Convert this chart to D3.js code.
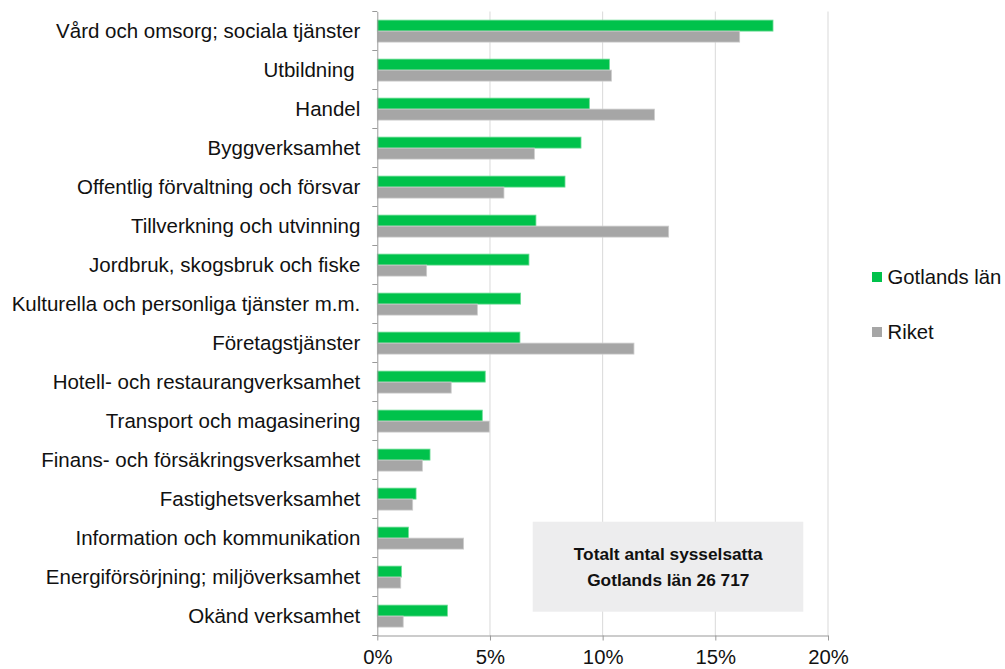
<!DOCTYPE html>
<html>
<head>
<meta charset="utf-8">
<script src="https://cdn.jsdelivr.net/npm/d3@7"></script>
<style>
  body { margin: 0; background: #fff; }
  text { font-family: "Liberation Sans", Arial, sans-serif; }
</style>
</head>
<body>
<div id="chart"></div>
<script>
// branscher, uppifrån och ned
const categories = [
  "Vård och omsorg; sociala tjänster",
  "Utbildning ",
  "Handel",
  "Byggverksamhet",
  "Offentlig förvaltning och försvar",
  "Tillverkning och utvinning",
  "Jordbruk, skogsbruk och fiske",
  "Kulturella och personliga tjänster m.m.",
  "Företagstjänster",
  "Hotell- och restaurangverksamhet",
  "Transport och magasinering",
  "Finans- och försäkringsverksamhet",
  "Fastighetsverksamhet",
  "Information och kommunikation",
  "Energiförsörjning; miljöverksamhet",
  "Okänd verksamhet"
]

// andel sysselsatta i procent
const gotland = [17.56, 10.30, 9.41, 9.04, 8.33, 7.04, 6.73, 6.36, 6.33, 4.79, 4.66, 2.34, 1.72, 1.38, 1.07, 3.11]
const riket = [16.08, 10.39, 12.30, 6.97, 5.62, 12.93, 2.19, 4.44, 11.39, 3.28, 4.97, 2.00, 1.57, 3.83, 1.04, 1.15]

const seriesNames = ["Gotlands län", "Riket"]
const xTicks = [0, 5, 10, 15, 20]
const boxLines = ["Totalt antal sysselsatta", "Gotlands län 26 717"]

const colors = { "Gotlands län": "#00c24b", "Riket": "#a6a6a6" }
const strokes = { "Gotlands län": "#6fdc96", "Riket": "#cdcdcd" }

const data = categories.map((c, i) => ({ cat: c, "Gotlands län": gotland[i], "Riket": riket[i] }))

const W = 1005, H = 669
const margin = { top: 11.5, left: 377.3 }
const width = 450.7, height = 624

const svg = d3.select("#chart").append("svg")
  .attr("width", W).attr("height", H)

const g = svg.append("g")
  .attr("transform", `translate(${margin.left},${margin.top})`)

const x = d3.scaleLinear().domain([0, 20]).range([0, width])
const y0 = d3.scaleBand().domain(categories).range([0, height]).padding(0)
const y1 = d3.scaleBand().domain(seriesNames).range([8.6, 30.6])

// stödlinjer
g.append("g").selectAll("line")
  .data(xTicks.filter(d => d > 0))
  .join("line")
    .attr("x1", d => x(d)).attr("x2", d => x(d))
    .attr("y1", 0).attr("y2", height)
    .attr("stroke", "#d9d9d9").attr("stroke-width", 1)

// textruta
const box = g.append("g")
box.append("rect")
  .attr("x", 532.7 - margin.left).attr("y", 521.7 - margin.top)
  .attr("width", 270.6).attr("height", 90)
  .attr("fill", "#ededee")
box.selectAll("text")
  .data(boxLines)
  .join("text")
    .attr("x", 668.3 - margin.left)
    .attr("y", (d, i) => 560 - margin.top + i * 26)
    .attr("text-anchor", "middle")
    .style("font-size", "17.3px")
    .style("font-weight", "bold")
    .attr("fill", "#111")
    .text(d => d)

// staplar
g.append("g").selectAll("g")
  .data(data)
  .join("g")
    .attr("transform", d => `translate(0,${y0(d.cat)})`)
  .selectAll("rect")
  .data(d => seriesNames.map(k => ({ key: k, value: d[k] })))
  .join("rect")
    .attr("x", 0)
    .attr("y", d => y1(d.key))
    .attr("width", d => x(d.value))
    .attr("height", y1.bandwidth())
    .attr("fill", d => colors[d.key])
    .attr("stroke", d => strokes[d.key])
    .attr("stroke-width", 0.8)

// y-axel
const yAxis = g.append("g")
  .call(d3.axisLeft(y0).tickValues([]).tickSizeOuter(0))
yAxis.select(".domain").attr("stroke", "#999")
yAxis.append("g").selectAll("line")
  .data(d3.range(categories.length + 1))
  .join("line")
    .attr("x1", -5).attr("x2", 0)
    .attr("y1", d => d * y0.step()).attr("y2", d => d * y0.step())
    .attr("stroke", "#999")
g.append("g").selectAll("text")
  .data(categories)
  .join("text")
    .attr("x", -17)
    .attr("y", d => y0(d) + y0.bandwidth() / 2)
    .attr("dy", "0.35em")
    .attr("text-anchor", "end")
    .style("font-size", "20.5px")
    .style("white-space", "pre")
    .attr("fill", "#111")
    .text(d => d)

// x-axel
const xAxis = g.append("g")
  .attr("transform", `translate(0,${height})`)
  .call(d3.axisBottom(x).tickValues(xTicks).tickFormat(d => d + "%").tickSize(5).tickSizeOuter(0).tickPadding(9))
xAxis.select(".domain").attr("stroke", "#999")
xAxis.selectAll(".tick line").attr("stroke", "#999")
xAxis.selectAll(".tick text")
  .style("font-size", "20.3px")
  .style("font-family", "'Liberation Sans', Arial, sans-serif")
  .attr("fill", "#111")

// teckenförklaring
const legend = svg.append("g").selectAll("g")
  .data(seriesNames)
  .join("g")
    .attr("transform", (d, i) => `translate(872,${277 + i * 55})`)
legend.append("rect")
  .attr("x", 0).attr("y", -5)
  .attr("width", 10).attr("height", 10)
  .attr("fill", d => colors[d])
legend.append("text")
  .attr("x", 15.5).attr("dy", "0.35em")
  .style("font-size", "20.3px")
  .attr("fill", "#111")
  .text(d => d)
</script>
</body>
</html>
